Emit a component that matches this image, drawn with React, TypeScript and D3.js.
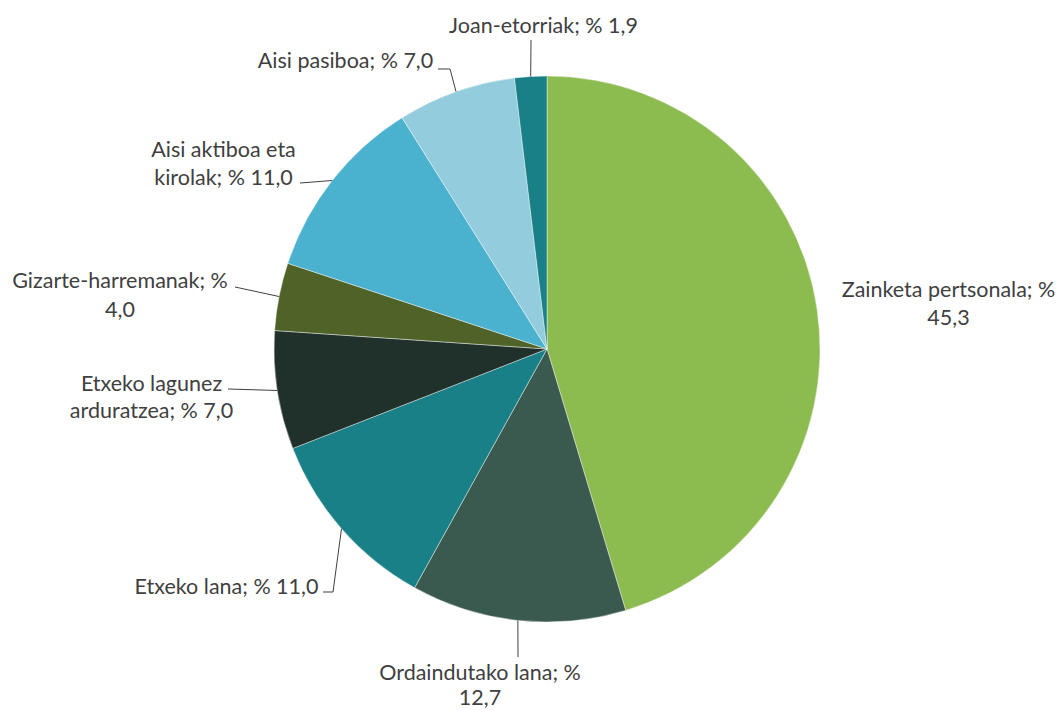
import React from "react";
import * as d3 from "d3";

const categories = [
  "Zainketa pertsonala",
  "Ordaindutako lana",
  "Etxeko lana",
  "Etxeko lagunez arduratzea",
  "Gizarte-harremanak",
  "Aisi aktiboa eta kirolak",
  "Aisi pasiboa",
  "Joan-etorriak",
];
const values = [45.3, 12.7, 11.0, 7.0, 4.0, 11.0, 7.0, 1.9];
const valueLabels = ["45,3", "12,7", "11,0", "7,0", "4,0", "11,0", "7,0", "1,9"];
const colors = ["#8CBB50", "#3B5A4F", "#1A8087", "#20302B", "#4F6228", "#4AB1CF", "#93CCDC", "#1A8087"];

// label text lines
const labelLines: string[][] = [
  ["Zainketa pertsonala; %", "45,3"],
  ["Ordaindutako lana; %", "12,7"],
  ["Etxeko lana; % 11,0"],
  ["Etxeko lagunez", "arduratzea; % 7,0"],
  ["Gizarte-harremanak; %", "4,0"],
  ["Aisi aktiboa eta", "kirolak; % 11,0"],
  ["Aisi pasiboa; % 7,0"],
  ["Joan-etorriak; % 1,9"],
];

const W = 1060;
const H = 710;
const cx = 547;
const cy = 349;
const R = 273;

// label layout: center x, first-line baseline, line step, leader start (near text), optional bend
const labelLayout = [
  { x: 948.5, y: 297, step: 28, lx: null as null | number, ly: 0, bend: null as null | [number, number] },
  { x: 480, y: 680, step: 25, lx: 518, ly: 657, bend: null },
  { x: 226.5, y: 594, step: 28, lx: 323, ly: 592, bend: [333, 592] as [number, number] },
  { x: 151.5, y: 391, step: 27, lx: 228, ly: 389, bend: null },
  { x: 120, y: 288, step: 29, lx: 235, ly: 287, bend: null },
  { x: 223.5, y: 157, step: 28, lx: 300, ly: 183, bend: null },
  { x: 345.5, y: 68, step: 28, lx: 438, ly: 69, bend: [450, 69] as [number, number] },
  { x: 543.5, y: 33, step: 28, lx: 531, ly: 40, bend: null },
];

export default function App() {
  const pie = d3.pie<number>().sort(null).value((d) => d)(values);
  const arc = d3.arc<d3.PieArcDatum<number>>().innerRadius(0).outerRadius(R);
  const font = "Lato, 'Open Sans', sans-serif";
  return (
    <svg
      width={W}
      height={H}
      style={{ position: "absolute", left: 0, top: 0, display: "block" }}
      fontFamily={font}
    >
      <rect width={W} height={H} fill="#fff" />
      <g transform={`translate(${cx},${cy})`}>
        {pie.map((p, i) => (
          <path key={i} d={arc(p) || ""} fill={colors[i]} stroke="#fff" strokeWidth={0.6} strokeOpacity={0.7} />
        ))}
      </g>
      {pie.map((p, i) => {
        const L = labelLayout[i];
        if (L.lx === null) return null;
        const mid = (p.startAngle + p.endAngle) / 2;
        const ex = cx + Math.sin(mid) * R;
        const ey = cy - Math.cos(mid) * R;
        const pts: [number, number][] = [[L.lx, L.ly]];
        if (L.bend) pts.push(L.bend);
        pts.push([ex, ey]);
        return (
          <path
            key={"l" + i}
            d={d3.line()(pts) || ""}
            fill="none"
            stroke="#404040"
            strokeWidth={1}
          />
        );
      })}
      {labelLines.map((lines, i) => {
        const L = labelLayout[i];
        return (
          <text key={"t" + i} x={L.x} y={L.y} textAnchor="middle" fontSize={21.5} fill="#404040">
            {lines.map((ln, j) => (
              <tspan key={j} x={L.x} dy={j === 0 ? 0 : L.step}>
                {ln}
              </tspan>
            ))}
          </text>
        );
      })}
    </svg>
  );
}
